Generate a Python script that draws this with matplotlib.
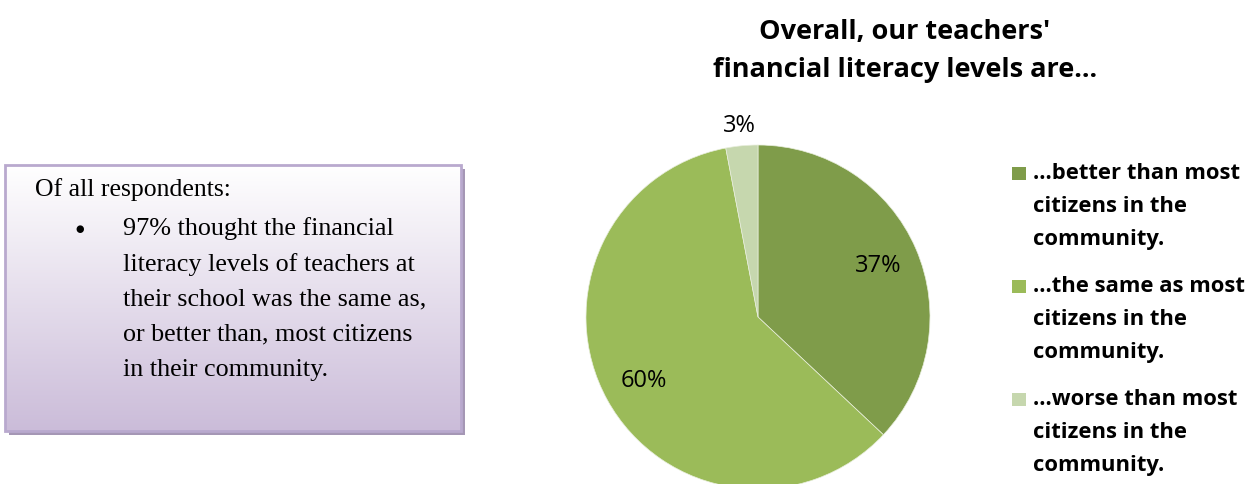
import numpy as np
import matplotlib
matplotlib.use('Agg')
import matplotlib.pyplot as plt
from matplotlib.patches import Rectangle

W, H = 1252, 485

# survey shares
labels = ['...better than most\ncitizens in the\ncommunity.',
          '...the same as most\ncitizens in the\ncommunity.',
          '...worse than most\ncitizens in the\ncommunity.']
shares = [37, 60, 3]
colors = ['#7F9C4A', '#9BBB59', '#C6D7AE']

title_lines = ["Overall, our teachers'", 'financial literacy levels are...']
note_head = 'Of all respondents:'
note_lines = ['97% thought the financial',
              'literacy levels of teachers at',
              'their school was the same as,',
              'or better than, most citizens',
              'in their community.']

fig = plt.figure(figsize=(W / 100, H / 100), dpi=100)

# background canvas in pixel units
bg = fig.add_axes([0, 0, 1, 1])
bg.set_xlim(0, W); bg.set_ylim(H, 0); bg.axis('off')

x0, y0, x1, y1 = 5, 166, 461, 432
# drop shadow
bg.add_patch(Rectangle((x0 + 4, y0 + 4), x1 - x0, y1 - y0, fc='#A597B5', ec='none', zorder=1))
# white-to-lavender gradient fill
grad = np.linspace(0, 1, 256)[:, None]
top, bot = np.array([1.0, 1.0, 1.0]), np.array([0xCB, 0xBC, 0xD9]) / 255
img = top + (bot - top) * grad[..., None]
img = np.repeat(img, 2, axis=1)
bg.imshow(img, extent=(x0, x1, y1, y0), aspect='auto', zorder=2, interpolation='bilinear')
bg.add_patch(Rectangle((x0, y0), x1 - x0, y1 - y0, fc='none', ec='#B9A9CE', lw=2, zorder=3))

serif = 'Liberation Serif'
bg.text(35, 190, note_head, family=serif, fontsize=18.5, va='center', zorder=4)
bg.text(80, 229, '\u25CF', family='DejaVu Sans', fontsize=7, va='center', ha='center', zorder=4)
for i, line in enumerate(note_lines):
    bg.text(123, 229 + i * 35.3, line, family=serif, fontsize=18.8, va='center', zorder=4)

# title and legend in a Calibri-like sans
sans = 'Open Sans'
for i, line in enumerate(title_lines):
    bg.text(905, 32 + i * 38, line, family=sans, fontsize=19.5, fontweight='bold',
            ha='center', va='center', zorder=4)

leg_y = [174, 287, 400]
for c, lab, y in zip(colors, labels, leg_y):
    bg.add_patch(Rectangle((1012, y - 6.5), 14, 13, fc=c, ec='none', zorder=4))
    for j, part in enumerate(lab.split('\n')):
        bg.text(1033, y + j * 33, part, family=sans, fontsize=15.8, fontweight='bold',
                va='center', zorder=4)

# pie
cx, cy, r = 758, 318, 172
pax = fig.add_axes([(cx - r) / W, (H - cy - r) / H, 2 * r / W, 2 * r / H])
wedges, texts, autotexts = pax.pie(shares, colors=colors, startangle=90, counterclock=False,
                                   autopct='%d%%', pctdistance=0.76,
                                   wedgeprops=dict(lw=0.5, ec='#E8EEDC'),
                                   textprops=dict(family=sans, fontsize=17))
# small slice label sits outside the pie
t = autotexts[2]
ang = np.deg2rad(90 - 360 * (shares[0] + shares[1] + shares[2] / 2) / sum(shares))
t.set_position((1.12 * np.cos(ang), 1.12 * np.sin(ang)))
pax.set_xlim(-1, 1); pax.set_ylim(-1, 1)
pax.set_aspect('equal')

fig.savefig('out.png', dpi=100)
